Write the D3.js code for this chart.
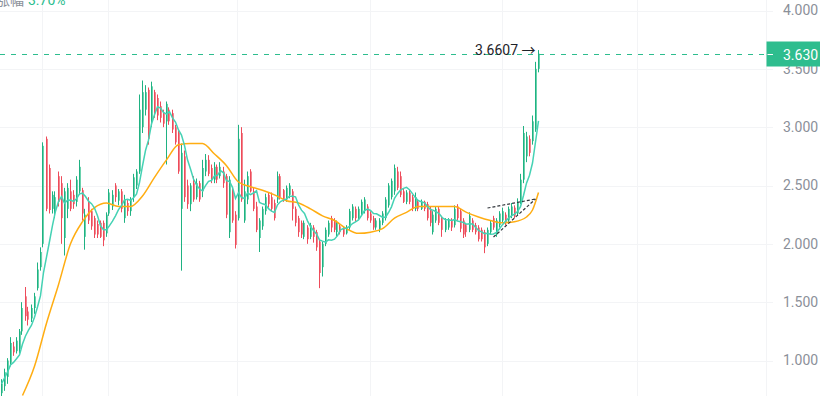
<!DOCTYPE html>
<html>
<head>
<meta charset="utf-8">
<script src="https://cdn.jsdelivr.net/npm/d3@7/dist/d3.min.js"></script>
<style>
  body { margin: 0; background: #fff; }
  svg { display: block; font-family: Roboto, "Noto Sans CJK SC", sans-serif; }
</style>
</head>
<body>
<div id="chart"></div>
<script>
// Candles, one per period, oldest first
var opens = [0.72,0.78,0.86,0.98,1.12,1.08,1.10,1.25,1.55,1.42,1.36,1.45,1.62,1.80,2.00,2.90,2.65,2.30,2.28,2.58,
  2.52,2.05,2.30,2.45,2.42,2.36,2.45,2.46,2.06,2.36,2.28,2.22,2.17,2.18,2.18,2.09,2.26,2.32,2.50,2.37,
  2.45,2.22,2.35,2.28,2.40,2.50,2.62,3.00,3.15,3.32,3.05,3.30,3.25,3.18,3.12,3.05,3.15,3.12,3.00,2.95,
  2.30,2.75,2.50,2.34,2.52,2.40,2.52,2.45,2.62,2.72,2.65,2.55,2.66,2.58,2.62,2.58,2.10,2.45,2.25,2.22,
  2.95,2.20,2.38,2.62,2.45,2.32,2.05,2.15,2.28,2.42,2.40,2.35,2.38,2.58,2.46,2.38,2.42,2.45,2.30,2.22,
  2.18,2.06,2.14,2.06,2.14,2.10,2.02,1.80,2.00,2.08,2.22,2.20,2.10,2.15,2.14,2.09,2.14,2.22,2.30,2.22,
  2.26,2.28,2.32,2.26,2.22,2.14,2.12,2.18,2.22,2.33,2.40,2.45,2.62,2.58,2.45,2.36,2.44,2.40,2.30,2.36,
  2.30,2.36,2.34,2.30,2.10,2.20,2.30,2.22,2.12,2.14,2.20,2.16,2.32,2.28,2.20,2.16,2.12,2.20,2.16,2.14,
  2.12,2.10,2.00,2.10,2.22,2.08,2.16,2.20,2.25,2.20,2.24,2.31,2.26,2.36,2.55,2.75,2.90,2.88,2.98,3.50];
var highs = [0.84,0.93,1.02,1.20,1.16,1.20,1.27,1.50,1.63,1.46,1.48,1.58,1.84,1.97,2.87,2.92,2.68,2.45,2.45,2.62,
  2.58,2.48,2.52,2.55,2.46,2.58,2.72,2.48,2.30,2.40,2.30,2.24,2.20,2.20,2.20,2.27,2.47,2.46,2.52,2.47,
  2.47,2.42,2.38,2.40,2.60,2.64,3.28,3.40,3.36,3.34,3.39,3.32,3.28,3.22,3.15,3.22,3.17,3.15,3.02,2.98,
  2.86,2.80,2.55,2.52,2.58,2.56,2.54,2.72,2.77,2.76,2.68,2.70,2.68,2.70,2.66,2.60,2.58,2.48,2.28,3.02,
  3.00,2.55,2.62,2.64,2.48,2.36,2.22,2.32,2.43,2.44,2.44,2.38,2.62,2.60,2.47,2.50,2.52,2.47,2.32,2.24,
  2.20,2.20,2.16,2.18,2.16,2.12,2.04,2.02,2.14,2.20,2.24,2.22,2.20,2.17,2.15,2.16,2.30,2.34,2.32,2.32,
  2.38,2.40,2.34,2.28,2.24,2.22,2.22,2.28,2.40,2.52,2.56,2.68,2.66,2.62,2.47,2.46,2.46,2.42,2.44,2.38,
  2.38,2.37,2.36,2.32,2.28,2.32,2.32,2.24,2.22,2.22,2.22,2.33,2.34,2.30,2.22,2.18,2.27,2.22,2.18,2.16,
  2.14,2.12,2.14,2.20,2.24,2.22,2.28,2.31,2.27,2.32,2.35,2.33,2.39,2.60,3.01,2.96,2.93,3.10,3.56,3.6607];
var lows = [0.68,0.74,0.80,0.95,1.04,1.06,1.06,1.22,1.34,1.30,1.33,1.40,1.60,1.77,1.97,2.28,2.26,2.26,2.22,2.32,
  2.00,1.90,2.22,2.28,2.30,2.32,2.42,2.20,1.95,2.17,2.12,2.05,2.05,2.05,1.98,2.06,2.24,2.29,2.36,2.33,
  2.27,2.18,2.24,2.24,2.36,2.47,2.60,2.95,3.10,2.85,3.00,3.08,3.06,3.04,3.00,2.68,3.02,2.95,2.85,2.60,
  1.77,2.36,2.30,2.28,2.36,2.38,2.36,2.40,2.58,2.58,2.52,2.52,2.52,2.56,2.48,2.22,2.05,2.18,1.96,2.20,
  2.36,2.18,2.34,2.44,2.28,2.10,1.93,2.12,2.25,2.31,2.28,2.20,2.35,2.38,2.36,2.36,2.39,2.20,2.15,2.06,
  2.05,2.04,2.00,2.04,2.01,1.94,1.62,1.72,1.98,2.06,2.10,2.10,2.06,2.08,2.06,2.08,2.12,2.20,2.19,2.21,
  2.24,2.26,2.20,2.18,2.12,2.12,2.10,2.16,2.20,2.31,2.38,2.42,2.46,2.40,2.35,2.34,2.34,2.28,2.28,2.28,
  2.29,2.28,2.20,2.15,2.08,2.18,2.16,2.06,2.10,2.12,2.11,2.14,2.20,2.10,2.05,2.06,2.10,2.10,2.08,2.02,
  2.02,1.92,1.98,2.08,2.12,2.06,2.14,2.18,2.16,2.18,2.22,2.22,2.24,2.34,2.52,2.70,2.75,2.85,2.96,3.47];
var closes = [0.80,0.90,1.00,1.15,1.07,1.17,1.25,1.45,1.38,1.35,1.45,1.55,1.78,1.93,2.84,2.30,2.29,2.42,2.40,2.36,
  2.22,2.45,2.48,2.30,2.34,2.55,2.66,2.26,2.25,2.20,2.15,2.08,2.08,2.06,2.03,2.25,2.44,2.42,2.40,2.45,
  2.30,2.38,2.28,2.38,2.57,2.62,3.15,3.30,3.30,2.90,3.35,3.12,3.10,3.08,3.03,3.20,3.05,2.98,2.87,2.62,
  2.78,2.40,2.34,2.50,2.38,2.52,2.38,2.65,2.72,2.60,2.55,2.66,2.55,2.66,2.52,2.25,2.55,2.20,1.99,2.90,
  2.38,2.45,2.58,2.45,2.30,2.12,2.20,2.30,2.40,2.34,2.30,2.22,2.58,2.40,2.38,2.48,2.50,2.30,2.18,2.10,
  2.08,2.18,2.04,2.16,2.06,1.97,1.75,2.00,2.12,2.18,2.14,2.12,2.18,2.10,2.08,2.14,2.28,2.32,2.22,2.30,
  2.36,2.38,2.22,2.20,2.14,2.20,2.20,2.26,2.38,2.50,2.54,2.65,2.48,2.42,2.36,2.44,2.36,2.30,2.40,2.30,
  2.36,2.30,2.22,2.18,2.25,2.30,2.18,2.12,2.20,2.21,2.14,2.30,2.22,2.13,2.08,2.10,2.24,2.12,2.10,2.04,
  2.04,1.97,2.12,2.18,2.14,2.20,2.26,2.28,2.18,2.30,2.32,2.24,2.36,2.55,2.95,2.92,2.78,3.05,3.50,3.63];

// Slow moving average (candle index -> value)
var slowMaAt = [7,11,15,19,23,27,31,35,39,43,47,51,55,59,63,67,71,75,79,83,87,91,95,99,103,107,111,115,
  119,123,127,131,135,139,143,147,151,155,159,163,167,171,175,177,179];
var slowMa = [0.70,0.95,1.32,1.65,2.00,2.19,2.31,2.35,2.32,2.32,2.41,2.57,2.72,2.85,2.86,2.86,2.77,2.67,
  2.53,2.49,2.46,2.42,2.37,2.35,2.30,2.24,2.20,2.13,2.09,2.10,2.13,2.22,2.27,2.32,2.32,2.32,2.32,2.27,
  2.23,2.20,2.18,2.19,2.23,2.29,2.44];

var fastMaLength = 7;
var yTicks = [1, 1.5, 2, 2.5, 3, 3.5, 4];
var timeGrid = [13.5, 35.5, 78.5, 122.8, 166.8, 211.8];   // period boundaries, in candle index units
var lastPrice = 3.630;
var peakLabel = "3.6607 \u2192";
var changeLabel = "\u6da8\u5e45";
var changeValue = "3.70%";
// hand-drawn trend lines: [candle index, price]
var trendLines = [
  [[162, 2.307], [178, 2.384]],
  [[164, 2.058], [178, 2.384]]
];

var width = 820, height = 396, plotRight = 766.5;
var upColor = "#1fb282", upBody = "#6ad2ad",
    downColor = "#ee4b5a", downBody = "#f2868f";

var candles = closes.map(function(c, i) {
  return { i: i, open: opens[i], high: highs[i], low: lows[i], close: c };
});

var fastMa = closes.map(function(c, i) {
  return { i: i, v: d3.mean(closes.slice(Math.max(0, i - fastMaLength + 1), i + 1)) };
});

var svg = d3.select("#chart").append("svg")
    .attr("width", width)
    .attr("height", height);

var x = d3.scaleLinear().domain([0, 255]).range([1.5, 766.5]);
var y = d3.scaleLinear().domain([1, 4]).range([360.5, 10.5]);

svg.append("defs").append("clipPath")
    .attr("id", "plot")
  .append("rect")
    .attr("width", plotRight)
    .attr("height", height);

// Grid
var grid = svg.append("g").attr("class", "grid")
    .attr("shape-rendering", "crispEdges")
    .style("stroke", "#f3f4f6");

grid.selectAll(".h").data(yTicks)
  .enter().append("line")
    .attr("class", "h")
    .attr("x1", 0).attr("x2", 773)
    .attr("y1", function(d) { return Math.round(y(d)) + 0.5; })
    .attr("y2", function(d) { return Math.round(y(d)) + 0.5; });

grid.selectAll(".v").data(timeGrid)
  .enter().append("line")
    .attr("class", "v")
    .attr("x1", function(d) { return Math.round(x(d)) + 0.5; })
    .attr("x2", function(d) { return Math.round(x(d)) + 0.5; })
    .attr("y1", 0).attr("y2", height);

grid.append("line")
    .attr("x1", plotRight).attr("x2", plotRight)
    .attr("y1", 0).attr("y2", height);

// Right price axis
var axis = svg.append("g")
    .attr("transform", "translate(776,0)")
    .call(d3.axisRight(y).tickValues(yTicks).tickFormat(d3.format(".3f")).tickSize(0).tickPadding(7));
axis.select(".domain").remove();
axis.selectAll("text")
    .style("font-size", "14px")
    .style("font-family", "Roboto, sans-serif")
    .style("fill", "#8b9099");

var plot = svg.append("g").attr("clip-path", "url(#plot)");

// Candles
var candle = plot.selectAll(".candle").data(candles)
  .enter().append("g")
    .attr("class", "candle");

candle.append("rect")
    .attr("x", function(d) { return Math.round(x(d.i)) - 1; })
    .attr("width", 2)
    .attr("y", function(d) { return y(Math.max(d.open, d.close)); })
    .attr("height", function(d) { return Math.max(1, Math.abs(y(d.open) - y(d.close))); })
    .style("fill", function(d) { return d.close >= d.open ? upBody : downBody; });

candle.append("line")
    .attr("x1", function(d) { return Math.round(x(d.i)) - 0.5; })
    .attr("x2", function(d) { return Math.round(x(d.i)) - 0.5; })
    .attr("y1", function(d) { return y(d.high); })
    .attr("y2", function(d) { return y(d.low); })
    .style("stroke", function(d) { return d.close >= d.open ? upColor : downColor; })
    .style("stroke-width", 1);

// Moving averages
plot.append("path")
    .datum(slowMaAt.map(function(k, j) { return { i: k, v: slowMa[j] }; }))
    .attr("d", d3.line().curve(d3.curveMonotoneX)
        .x(function(d) { return x(d.i); })
        .y(function(d) { return y(d.v); }))
    .style("fill", "none")
    .style("stroke", "#ffad12")
    .style("stroke-width", 1.5);

plot.append("path")
    .datum(fastMa)
    .attr("d", d3.line()
        .x(function(d) { return x(d.i); })
        .y(function(d) { return y(d.v); }))
    .style("fill", "none")
    .style("stroke", "#45d2b4")
    .style("stroke-width", 1.5);

// Trend lines
plot.selectAll(".trend").data(trendLines)
  .enter().append("line")
    .attr("class", "trend")
    .attr("x1", function(d) { return x(d[0][0]); })
    .attr("y1", function(d) { return y(d[0][1]); })
    .attr("x2", function(d) { return x(d[1][0]); })
    .attr("y2", function(d) { return y(d[1][1]); })
    .style("stroke", "#33373d")
    .style("stroke-width", 1.2)
    .style("stroke-dasharray", "3,2");

// Last price line + label
var ly = Math.round(y(lastPrice)) + 0.5;
svg.append("line")
    .attr("x1", 0).attr("x2", plotRight)
    .attr("y1", ly).attr("y2", ly)
    .style("stroke", "#2dbd8e")
    .style("stroke-dasharray", "5,6");

svg.append("rect")
    .attr("x", plotRight)
    .attr("y", ly - 13)
    .attr("width", width - plotRight)
    .attr("height", 25)
    .style("fill", "#2ebd8e");

svg.append("line")
    .attr("x1", plotRight + 1).attr("x2", 773)
    .attr("y1", ly).attr("y2", ly)
    .style("stroke", "#fff");

svg.append("text")
    .attr("x", 783)
    .attr("y", ly + 5)
    .style("font-size", "14px")
    .style("fill", "#fff")
    .text(d3.format(".3f")(lastPrice));

// Peak annotation
var last = candles[candles.length - 1];
svg.append("text")
    .attr("x", x(last.i) - 3)
    .attr("y", y(last.high) + 5)
    .attr("text-anchor", "end")
    .style("font-size", "14px")
    .style("fill", "#1e2329")
    .text(peakLabel);

// Header (cut at top edge)
var header = svg.append("text")
    .attr("x", -4)
    .attr("y", 5)
    .style("font-size", "14px");
header.append("tspan")
    .style("fill", "#8b9099")
    .style("font-family", "'Noto Sans CJK SC', sans-serif")
    .text(changeLabel);
header.append("tspan")
    .attr("dx", 4)
    .style("fill", "#2dbd8e")
    .text(changeValue);
</script>
</body>
</html>
